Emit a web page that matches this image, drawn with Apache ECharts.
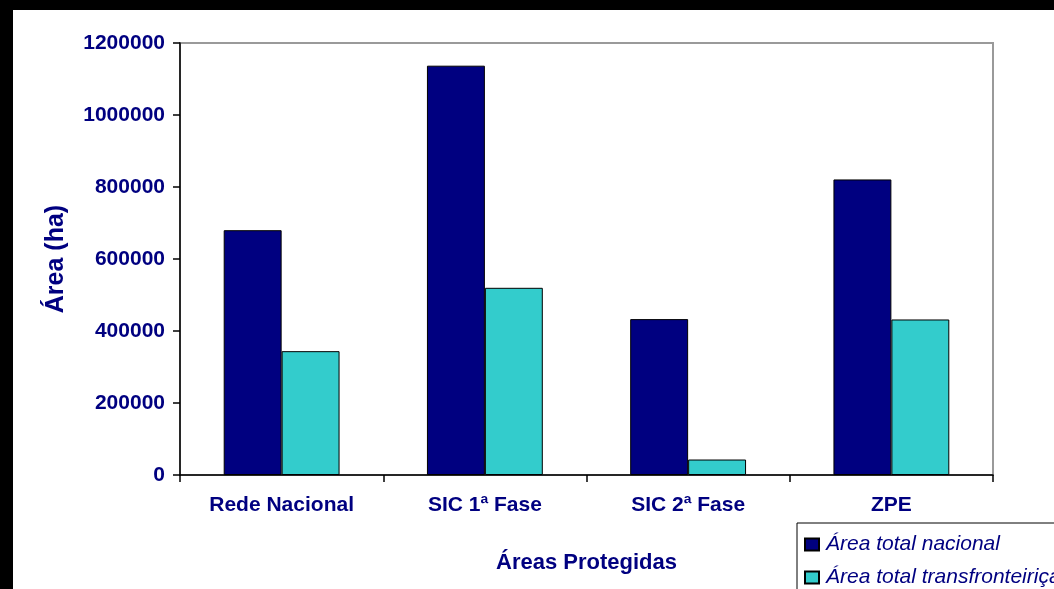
<!DOCTYPE html>
<html>
<head>
<meta charset="utf-8">
<style>
  html, body { margin: 0; padding: 0; background: #fff; }
  #chart { width: 1054px; height: 589px; }
</style>
<script src="https://cdn.jsdelivr.net/npm/echarts@6/dist/echarts.min.js"></script>
</head>
<body>
<div id="chart"></div>
<script>
// Áreas protegidas: área nacional vs. transfronteiriça (ha)
const categories = ['Rede Nacional', 'SIC 1ª Fase', 'SIC 2ª Fase', 'ZPE'];
const areaNacional = [680000, 1137000, 433000, 821000];
const areaTransfronteirica = [344000, 520000, 43000, 432000];
const yTicks = [0, 200000, 400000, 600000, 800000, 1000000, 1200000];

const navy = '#000080';
const font = 'Arial, "Liberation Sans", sans-serif';

const chart = echarts.init(document.getElementById('chart'), null, { renderer: 'canvas' });

chart.setOption({
  backgroundColor: '#fff',
  animation: false,
  graphic: [
    // dark frame strips along the top and left edges
    { type: 'rect', left: 0, top: 0, shape: { width: 1054, height: 10 }, style: { fill: '#000' }, z: 100 },
    { type: 'rect', left: 0, top: 0, shape: { width: 13, height: 589 }, style: { fill: '#000' }, z: 100 }
  ],
  grid: {
    left: 180, top: 43, right: 61, bottom: 114,
    show: true, borderColor: '#9a9a9a', borderWidth: 2, backgroundColor: '#fff'
  },
  legend: {
    orient: 'vertical',
    left: 797, top: 523,
    width: 300, height: 120,
    padding: [11, 40, 10, 7],
    itemGap: 12,
    itemWidth: 14, itemHeight: 12,
    icon: 'rect',
    backgroundColor: '#fff',
    borderColor: '#000', borderWidth: 1,
    textStyle: { color: navy, fontStyle: 'italic', fontSize: 21, fontFamily: font, padding: [0, 0, 0, 2] },
    data: ['Área total nacional', 'Área total transfronteiriça']
  },
  xAxis: {
    type: 'category',
    data: categories,
    name: 'Áreas Protegidas',
    nameLocation: 'middle',
    nameGap: 77,
    nameTextStyle: { color: navy, fontWeight: 'bold', fontSize: 22, fontFamily: font },
    axisLine: { lineStyle: { color: '#000', width: 1.5 } },
    axisTick: { show: true, length: 7, lineStyle: { color: '#000', width: 1.5 } },
    axisLabel: { color: navy, fontWeight: 'bold', fontSize: 21, fontFamily: font, margin: 20 }
  },
  yAxis: {
    type: 'value',
    min: yTicks[0],
    max: yTicks[yTicks.length - 1],
    interval: yTicks[1] - yTicks[0],
    name: 'Área (ha)',
    nameLocation: 'middle',
    nameGap: 111,
    nameTextStyle: { color: navy, fontWeight: 'bold', fontSize: 25, fontFamily: font },
    axisLine: { show: true, lineStyle: { color: '#000', width: 1.5 } },
    axisTick: { show: true, length: 7, lineStyle: { color: '#000', width: 1.5 } },
    splitLine: { show: false },
    axisLabel: {
      color: navy, fontWeight: 'bold', fontSize: 21, fontFamily: font, margin: 15,
      formatter: (v) => String(v)
    }
  },
  series: [
    {
      name: 'Área total nacional',
      type: 'bar',
      data: areaNacional,
      barGap: '0%',
      barCategoryGap: '43%',
      itemStyle: { color: navy, borderColor: '#000', borderWidth: 1 }
    },
    {
      name: 'Área total transfronteiriça',
      type: 'bar',
      data: areaTransfronteirica,
      itemStyle: { color: '#33cccc', borderColor: '#000', borderWidth: 1 }
    }
  ]
});
</script>
</body>
</html>
